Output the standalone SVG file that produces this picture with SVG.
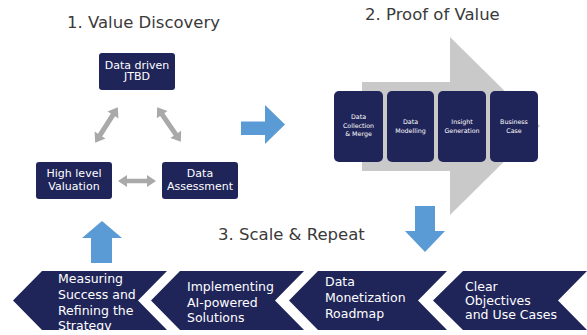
<svg xmlns="http://www.w3.org/2000/svg" width="587" height="335" viewBox="0 0 587 335">
  <style>
    .title { font-family: "DejaVu Sans", Verdana, sans-serif; font-size: 16.5px; fill: #3a3a3a; }
    .navy { fill: #1f2559; }
    .lbl { font-family: "DejaVu Sans", Verdana, sans-serif; font-size: 11px; fill: #ffffff; text-anchor: middle; }
    .tiny { font-family: "DejaVu Sans", Verdana, sans-serif; font-size: 6.3px; fill: #ffffff; text-anchor: middle; }
    .step { font-family: "DejaVu Sans", Verdana, sans-serif; font-size: 12.5px; fill: #ffffff; }
    .grey { fill: #a9a9a9; }
    .blue { fill: #5b9bd5; }
  </style>
  <defs>
    <!-- double-headed arrow, centred on the origin, pointing along x -->
    <path id="dbl42" d="M-21,0 L-12,-6.5 L-12,-2.5 L12,-2.5 L12,-6.5 L21,0 L12,6.5 L12,2.5 L-12,2.5 L-12,6.5 Z"/>
    <path id="dbl38" d="M-19,0 L-10,-6 L-10,-2.2 L10,-2.2 L10,-6 L19,0 L10,6 L10,2.2 L-10,2.2 L-10,6 Z"/>
  </defs>

  <rect width="587" height="335" fill="#ffffff"/>

  <!-- section headings -->
  <text class="title" x="67" y="28">1. Value Discovery</text>
  <text class="title" x="365" y="20">2. Proof of Value</text>
  <text class="title" x="218" y="240">3. Scale &amp; Repeat</text>

  <!-- backdrop arrow behind the proof-of-value steps -->
  <g id="pov-backdrop">
    <path d="M362,82 L450,82 L450,37 L540,126 L450,215 L450,171 L362,171 Z" fill="#c9c9c9"/>
  </g>

  <!-- value discovery cycle -->
  <g id="node-jtbd">
    <rect class="navy" x="99" y="53" width="76" height="37" rx="3"/>
    <text class="lbl" x="137" y="68.5">Data driven</text>
    <text class="lbl" x="137" y="80">JTBD</text>
  </g>
  <g id="node-valuation">
    <rect class="navy" x="36" y="162" width="76" height="37" rx="3"/>
    <text class="lbl" x="74" y="177">High level</text>
    <text class="lbl" x="74" y="190">Valuation</text>
  </g>
  <g id="node-assessment">
    <rect class="navy" x="162" y="162" width="76" height="37" rx="3"/>
    <text class="lbl" x="200" y="177">Data</text>
    <text class="lbl" x="200" y="190">Assessment</text>
  </g>

  <!-- proof of value steps -->
  <g id="node-collection">
    <rect class="navy" x="334" y="91" width="49" height="71" rx="5"/>
    <text class="tiny" x="358.5" y="119">Data</text>
    <text class="tiny" x="358.5" y="127.5">Collection</text>
    <text class="tiny" x="358.5" y="135.5">&amp; Merge</text>
  </g>
  <g id="node-modelling">
    <rect class="navy" x="387" y="91" width="47" height="71" rx="5"/>
    <text class="tiny" x="410.5" y="124">Data</text>
    <text class="tiny" x="410.5" y="132.5">Modelling</text>
  </g>
  <g id="node-insight">
    <rect class="navy" x="438" y="91" width="48" height="71" rx="5"/>
    <text class="tiny" x="462" y="124">Insight</text>
    <text class="tiny" x="462" y="132.5">Generation</text>
  </g>
  <g id="node-business">
    <rect class="navy" x="490" y="91" width="48" height="71" rx="5"/>
    <text class="tiny" x="514" y="124">Business</text>
    <text class="tiny" x="514" y="132.5">Case</text>
  </g>

  <!-- scale & repeat chevrons -->
  <g id="node-measuring">
    <path class="navy" d="M13,300.5 L42,271 L167,271 L138,300.5 L167,330 L42,330 Z"/>
    <text class="step" x="58" y="283">Measuring</text>
    <text class="step" x="58" y="299">Success and</text>
    <text class="step" x="58" y="315">Refining the</text>
    <text class="step" x="58" y="330">Strategy</text>
  </g>
  <g id="node-implementing">
    <path class="navy" d="M151,300.5 L180,271 L304,271 L275,300.5 L304,330 L180,330 Z"/>
    <text class="step" x="187" y="291">Implementing</text>
    <text class="step" x="187" y="306.5">AI-powered</text>
    <text class="step" x="187" y="322">Solutions</text>
  </g>
  <g id="node-roadmap">
    <path class="navy" d="M289,300.5 L318,271 L447,271 L418,300.5 L447,330 L318,330 Z"/>
    <text class="step" x="325" y="286">Data</text>
    <text class="step" x="325" y="302">Monetization</text>
    <text class="step" x="325" y="317.5">Roadmap</text>
  </g>
  <g id="node-objectives">
    <path class="navy" d="M433,300.5 L463,271 L587,271 L558,300.5 L587,330 L463,330 Z"/>
    <text class="step" x="465" y="291">Clear</text>
    <text class="step" x="465" y="305">Objectives</text>
    <text class="step" x="465" y="319">and Use Cases</text>
  </g>

  <!-- connectors -->
  <g id="connectors">
    <use href="#dbl42" class="grey" transform="translate(106.5,125) rotate(-57.4)"/>
    <use href="#dbl42" class="grey" transform="translate(169,124.5) rotate(55.6)"/>
    <use href="#dbl38" class="grey" transform="translate(137,181)"/>
    <!-- discovery to proof of value -->
    <path class="blue" d="M241,121.5 L265,121.5 L265,105 L285,124.5 L265,144 L265,135 L241,135 Z"/>
    <!-- proof of value down to scale & repeat -->
    <path class="blue" d="M415,206 L435,206 L435,231 L445,231 L425,252 L405,231 L415,231 Z"/>
    <!-- scale & repeat back up to discovery -->
    <path class="blue" d="M91,263 L112,263 L112,238 L122,238 L102,221 L82,238 L91,238 Z"/>
  </g>
</svg>
